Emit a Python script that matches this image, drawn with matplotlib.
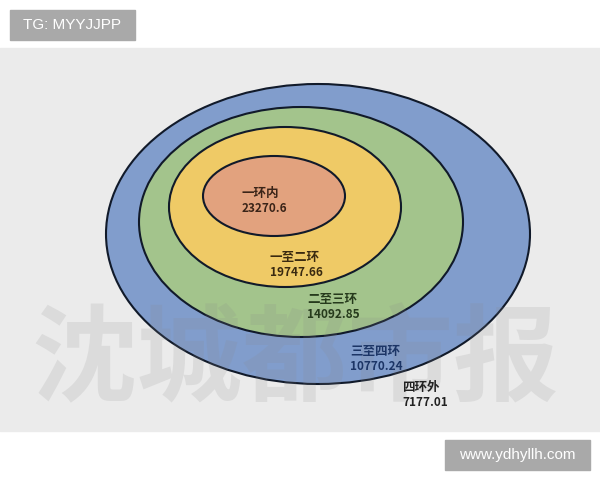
import matplotlib.pyplot as plt
from matplotlib.patches import Ellipse, Rectangle

plt.rcParams['font.family'] = ['Noto Sans CJK SC', 'DejaVu Sans']

# rings from outside to inside
rings = ['四环外', '三至四环', '二至三环', '一至二环', '一环内']
prices = [7177.01, 10770.24, 14092.85, 19747.66, 23270.6]
price_text = ['7177.01', '10770.24', '14092.85', '19747.66', '23270.6']

# ellipse geometry in pixel units (outer blue disc holds two labels)
ell_cx = [318, 301, 285, 274]
ell_cy = [234, 222, 207, 196]
ell_w = [424, 324, 232, 142]
ell_h = [300, 230, 160, 80]
ell_col = ['#819dcc', '#a3c48c', '#efca66', '#e2a27e']

label_xy = [(402, 388), (350, 351), (307, 300), (270, 257), (242, 193)]
label_col = ['#222222', '#1c3566', '#263a1c', '#3a2a10', '#3a2418']

fig = plt.figure(figsize=(6, 4.8), dpi=100)
ax = fig.add_axes([0, 0, 1, 1])
ax.set_xlim(0, 600)
ax.set_ylim(480, 0)
ax.axis('off')

# gray band behind the chart
ax.add_patch(Rectangle((0, 48), 600, 383, color='#ebebeb', zorder=0))

for cx, cy, w, h, c in zip(ell_cx, ell_cy, ell_w, ell_h, ell_col):
    ax.add_patch(Ellipse((cx, cy), w, h, facecolor=c, edgecolor='#111a2a',
                         lw=1.5, zorder=2))

for name, txt, (x, y), c in zip(rings, price_text, label_xy, label_col):
    ax.text(x, y, name, fontsize=9, color=c, ha='left', va='center',
            fontweight='bold', zorder=4)
    ax.text(x, y + 15, txt, fontsize=8.5, color=c, ha='left', va='center',
            fontweight='bold', zorder=4)

# faint watermark
ax.text(295, 362, '沈城都市报', fontsize=76, color='#8a8a8a', alpha=0.16,
        ha='center', va='center', fontweight='black', zorder=3)

# corner tags
ax.add_patch(Rectangle((10, 10), 125, 30, color='#a9a9a9', zorder=5))
ax.text(72, 25, 'TG: MYYJJPP', fontsize=11, color='white', ha='center',
        va='center', family=['Liberation Sans', 'DejaVu Sans'], zorder=6)
ax.add_patch(Rectangle((445, 440), 145, 30, color='#a9a9a9', zorder=5))
ax.text(517, 455, 'www.ydhyllh.com', fontsize=11, color='white',
        ha='center', va='center', family=['Liberation Sans', 'DejaVu Sans'],
        zorder=6)

fig.savefig('out.png', dpi=100, facecolor='white')
